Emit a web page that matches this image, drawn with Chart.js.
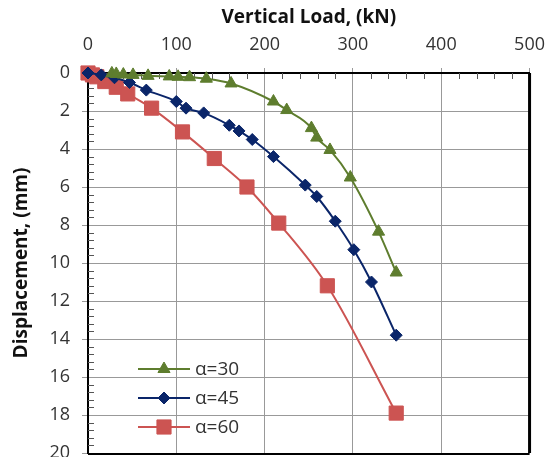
<!DOCTYPE html>
<html><head><meta charset="utf-8">
<script src="https://cdn.jsdelivr.net/npm/chart.js@4"></script>
<style>
html,body{margin:0;padding:0;background:#fff;overflow:hidden;}
#wrap{width:557px;height:457px;overflow:hidden;position:relative;}
#box{width:557px;height:480px;position:absolute;left:0;top:0;}
</style></head>
<body><div id="wrap"><div id="box"><canvas id="c"></canvas></div></div>
<script>
const xTitle = "Vertical Load, (kN)";
const yTitle = "Displacement, (mm)";
const seriesNames = ["α=30", "α=45", "α=60"];
const load30 = [27, 32, 40, 51, 68, 92, 102, 115, 134, 162, 210, 225, 253, 259, 274, 297, 329, 349];
const disp30 = [0.02, 0.05, 0.08, 0.1, 0.15, 0.18, 0.2, 0.22, 0.3, 0.55, 1.5, 1.95, 2.9, 3.4, 4.05, 5.5, 8.35, 10.5];
const load45 = [0, 15, 30, 47, 66, 100, 111, 131, 160, 171, 186, 210, 246, 259, 280, 301, 321, 349];
const disp45 = [0, 0.1, 0.25, 0.5, 0.9, 1.5, 1.85, 2.1, 2.75, 3.05, 3.5, 4.4, 5.9, 6.5, 7.8, 9.3, 11.0, 13.8];
const load60 = [0, 5, 10, 19, 32, 45, 72, 107, 143, 180, 216, 271, 349];
const disp60 = [0, 0.1, 0.2, 0.45, 0.75, 1.1, 1.85, 3.1, 4.5, 6.0, 7.9, 11.2, 17.9];
const colors = ["#5e7d2e", "#0a2569", "#cc5452"];
const shapes = ["triangle", "rectRot", "rect"];
const radii = [7, 6, 10];

function pts(xs, ys){ return xs.map((x,i)=>({x:x, y:ys[i]})); }

const minorTicks = {
  id:'minorTicks',
  beforeDatasetsDraw(chart){
    const ctx = chart.ctx, a = chart.chartArea;
    const xs = chart.scales.x, ys = chart.scales.y;
    ctx.save();
    ctx.strokeStyle = '#555'; ctx.lineWidth = 1;
    ctx.beginPath();
    for(let v=20; v<500; v+=20){ if(v%100===0) continue;
      const px = Math.round(xs.getPixelForValue(v))+0.5;
      ctx.moveTo(px, a.top); ctx.lineTo(px, a.top+6); }
    for(let k=1; k<50; k++){ if(k%5===0) continue;
      const py = Math.round(ys.getPixelForValue(k*0.4))+0.5;
      ctx.moveTo(a.left, py); ctx.lineTo(a.left+6, py); }
    ctx.stroke();
    ctx.strokeStyle = '#000';
    ctx.lineWidth = 3;
    ctx.beginPath(); ctx.moveTo(a.right, a.top); ctx.lineTo(a.right, a.bottom); ctx.stroke();
    ctx.lineWidth = 2;
    ctx.beginPath(); ctx.moveTo(a.left, a.bottom+1); ctx.lineTo(a.right, a.bottom+1); ctx.stroke();
    ctx.restore();
  },
  afterDraw(chart){
    const ctx = chart.ctx;
    const x0 = 138, x1 = 190, ty = [369, 398, 427];
    ctx.save();
    chart.data.datasets.forEach((ds,i)=>{
      ctx.strokeStyle = ds.borderColor; ctx.lineWidth = 2;
      ctx.beginPath(); ctx.moveTo(x0, ty[i]); ctx.lineTo(x1, ty[i]); ctx.stroke();
      ctx.fillStyle = ds.backgroundColor; ctx.strokeStyle = ds.borderColor; ctx.lineWidth = 1;
      Chart.helpers.drawPoint(ctx, {pointStyle: ds.pointStyle, radius: ds.pointRadius, borderWidth:1, rotation:0}, (x0+x1)/2, ty[i]);
      ctx.fillStyle = '#333';
      ctx.font = '19px "Open Sans", sans-serif';
      ctx.textBaseline = 'middle'; ctx.textAlign = 'left';
      ctx.fillText(ds.label, x1+5, ty[i]+1);
    });
    ctx.restore();
  }
};

const datasets = [[load30,disp30],[load45,disp45],[load60,disp60]].map((d,i)=>({
  label: seriesNames[i],
  data: pts(d[0], d[1]),
  borderColor: colors[i],
  backgroundColor: colors[i],
  borderWidth: 2,
  pointStyle: shapes[i],
  pointRadius: radii[i],
  pointHoverRadius: radii[i],
  pointBorderWidth: 1,
  tension: 0.4,
  cubicInterpolationMode: 'monotone',
  showLine: true,
  clip: false
}));

new Chart(document.getElementById('c'), {
  type: 'scatter',
  data: { datasets: datasets },
  plugins: [minorTicks],
  options: {
    responsive: true, maintainAspectRatio: false, animation: false,
    layout: { padding: { left: 0, right: 25, top: 0, bottom: 27 } },
    plugins: { legend: { display: false }, tooltip: { enabled: false } },
    scales: {
      x: {
        type: 'linear', position: 'top', min: 0, max: 500,
        ticks: { stepSize: 100, color: '#333', font: { size: 18, family: '"Open Sans", sans-serif' }, padding: 12 },
        grid: { color: '#999', lineWidth: 1, tickLength: 5, drawTicks: true },
        border: { display: true, color: '#000', width: 2 },
        title: { display: true, text: xTitle, color: '#111', font: { size: 19, weight: 'bold', family: '"Open Sans", sans-serif' }, padding: { top: 6, bottom: 0 } },
        afterFit(s){ s.height = 73; }
      },
      y: {
        type: 'linear', reverse: true, min: 0, max: 20,
        ticks: { stepSize: 2, color: '#333', font: { size: 18, family: '"Open Sans", sans-serif' }, padding: 12 },
        grid: { color: '#999', lineWidth: 1, tickLength: 6 },
        border: { display: true, color: '#000', width: 2 },
        title: { display: true, text: yTitle, color: '#111', font: { size: 19, weight: 'bold', family: '"Open Sans", sans-serif' }, padding: { top: 10, bottom: 0 } },
        afterFit(s){ s.width = 88; }
      }
    }
  }
});
</script></body></html>
